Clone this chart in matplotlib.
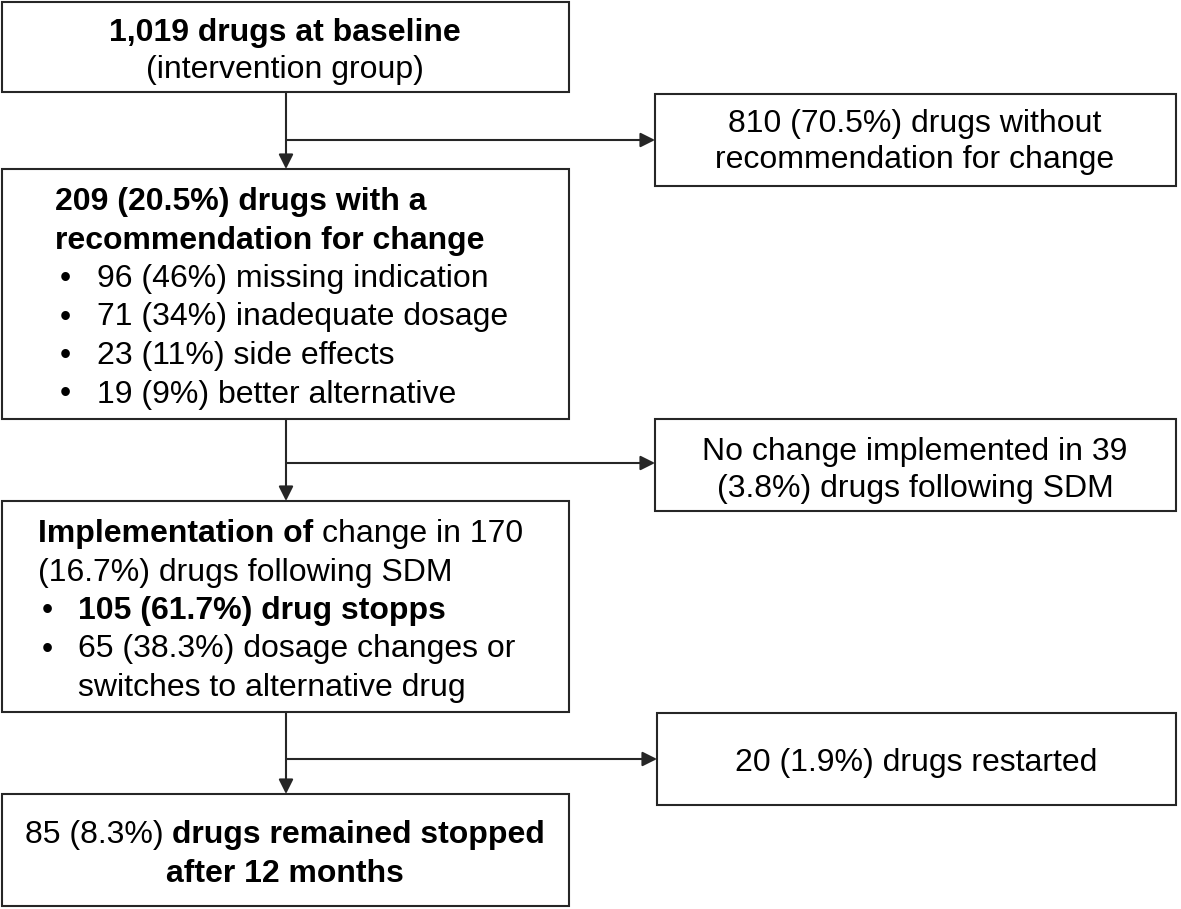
import matplotlib
matplotlib.use("Agg")
import matplotlib.pyplot as plt
from matplotlib.patches import Rectangle

plt.rcParams['font.family'] = ['Liberation Sans', 'DejaVu Sans']

# flowchart content (each line is a list of (text, weight) runs)
box_top = [[("1,019 drugs at baseline", "bold")],
           [("(intervention group)", "normal")]]
box_no_rec = [[("810 (70.5%) drugs without", "normal")],
              [("recommendation for change", "normal")]]
box_rec = [[("209 (20.5%) drugs with a", "bold")],
           [("recommendation for change", "bold")]]
rec_reasons = ["96 (46%) missing indication",
               "71 (34%) inadequate dosage",
               "23 (11%) side effects",
               "19 (9%) better alternative"]
box_no_change = [[("No change implemented in 39", "normal")],
                 [("(3.8%) drugs following SDM", "normal")]]
box_impl = [[("Implementation of", "bold"), ("change in 170", "normal")],
            [("(16.7%) drugs following SDM", "normal")]]
impl_items = [[("105 (61.7%) drug stopps", "bold")],
              [("65 (38.3%) dosage changes or", "normal")],
              [("switches to alternative drug", "normal")]]
impl_bullets = [True, True, False]
box_restart = [[("20 (1.9%) drugs restarted", "normal")]]
box_final = [[("85 (8.3%)", "normal"), ("drugs remained stopped", "bold")],
             [("after 12 months", "bold")]]

W, H = 1181, 909
FS = 23
EDGE = '#262626'
LW = 1.5
LINE = 38.5

fig = plt.figure(figsize=(W / 100, H / 100), dpi=100)
ax = fig.add_axes([0, 0, 1, 1])
ax.set_xlim(0, W)
ax.set_ylim(H, 0)
ax.axis('off')
renderer = fig.canvas.get_renderer()


def text_width(s, weight):
    t = ax.text(0, 0, s, fontsize=FS, fontweight=weight)
    w = t.get_window_extent(renderer=renderer).width
    t.remove()
    return w


def space_width(weight):
    return text_width("a a", weight) - text_width("aa", weight)


def draw_runs(x, y, runs, ha='left'):
    widths = [text_width(s, wt) for s, wt in runs]
    gaps = [space_width(wt) for s, wt in runs[1:]]
    total = sum(widths) + sum(gaps)
    if ha == 'center':
        x = x - total / 2
    for i, (s, wt) in enumerate(runs):
        ax.text(x, y, s, fontsize=FS, fontweight=wt, ha='left', va='baseline', color='black')
        x += widths[i]
        if i < len(gaps):
            x += gaps[i]


def box(x0, y0, x1, y1):
    ax.add_patch(Rectangle((x0, y0), x1 - x0, y1 - y0, fill=False,
                           edgecolor=EDGE, linewidth=LW))


def arrow(x0, y0, x1, y1):
    ax.annotate("", xy=(x1, y1), xytext=(x0, y0),
                arrowprops=dict(arrowstyle='-|>', color=EDGE, lw=LW,
                                mutation_scale=22, shrinkA=0, shrinkB=0))


# left column boxes
box(2, 2, 569, 92)
box(2, 169, 569, 419)
box(2, 501, 569, 712)
box(2, 794, 569, 906)
# right column boxes
box(655, 94, 1176, 186)
box(655, 419, 1176, 511)
box(657, 713, 1176, 805)

# arrows
cx = 286
for top, bot, mid, right in [(92, 169, 140, 655), (419, 501, 463, 655), (712, 794, 759, 657)]:
    arrow(cx, top, cx, bot)
    arrow(cx, mid, right, mid)

# box 1
for i, runs in enumerate(box_top):
    draw_runs(285, 41 + i * 37, runs, ha='center')

# right box 1
for i, runs in enumerate(box_no_rec):
    draw_runs(915, 132 + i * 36, runs, ha='center')

# box 2
y = 210
for runs in box_rec:
    draw_runs(55, y, runs)
    y += LINE
for item in rec_reasons:
    ax.text(60, y, "•", fontsize=FS, va='baseline')
    draw_runs(97, y, [(item, "normal")])
    y += LINE

# right box 2
for i, runs in enumerate(box_no_change):
    draw_runs(915, 460 + i * 37, runs, ha='center')

# box 3
y = 542
for runs in box_impl:
    draw_runs(38, y, runs)
    y += LINE
for runs, has_bullet in zip(impl_items, impl_bullets):
    if has_bullet:
        ax.text(42, y, "•", fontsize=FS, va='baseline')
    draw_runs(78, y, runs)
    y += LINE

# right box 3
draw_runs(916, 771, box_restart[0], ha='center')

# box 4
for i, runs in enumerate(box_final):
    draw_runs(285, 843 + i * 39, runs, ha='center')

fig.savefig('out.png', dpi=100, facecolor='white')
